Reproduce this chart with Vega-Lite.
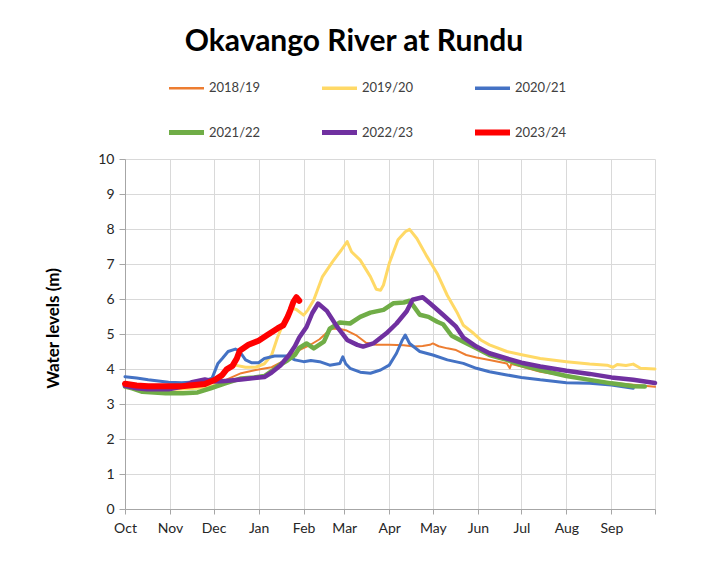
{
  "$schema": "https://vega.github.io/schema/vega-lite/v6.json",
  "width": 530,
  "height": 350,
  "autosize": {"type": "none"},
  "padding": {"left": 125, "top": 159, "right": 72, "bottom": 52},
  "background": "white",
  "config": {"view": {"stroke": null}, "font": "Lato"},
  "title": {"text": "Okavango River at Rundu", "font": "Lato", "fontSize": 30, "fontWeight": "bold", "color": "black", "anchor": "middle", "dx": -36, "offset": 22},
  "datasets": {
    "levels": [
      {"s":"2018/19","d":0,"v":3.50},{"s":"2018/19","d":10,"v":3.46},{"s":"2018/19","d":20,"v":3.45},{"s":"2018/19","d":40,"v":3.45},{"s":"2018/19","d":55,"v":3.48},{"s":"2018/19","d":61,"v":3.52},{"s":"2018/19","d":71,"v":3.72},{"s":"2018/19","d":80,"v":3.88},{"s":"2018/19","d":90,"v":3.97},{"s":"2018/19","d":101,"v":4.05},{"s":"2018/19","d":108,"v":4.2},{"s":"2018/19","d":112,"v":4.35},{"s":"2018/19","d":120,"v":4.54},{"s":"2018/19","d":128,"v":4.7},{"s":"2018/19","d":134,"v":4.85},{"s":"2018/19","d":140,"v":5.08},{"s":"2018/19","d":143,"v":5.16},{"s":"2018/19","d":148,"v":5.14},{"s":"2018/19","d":152,"v":5.11},{"s":"2018/19","d":159,"v":4.97},{"s":"2018/19","d":166,"v":4.75},{"s":"2018/19","d":173,"v":4.69},{"s":"2018/19","d":182,"v":4.69},{"s":"2018/19","d":192,"v":4.68},{"s":"2018/19","d":199,"v":4.64},{"s":"2018/19","d":205,"v":4.66},{"s":"2018/19","d":210,"v":4.69},{"s":"2018/19","d":212,"v":4.73},{"s":"2018/19","d":216,"v":4.65},{"s":"2018/19","d":222,"v":4.59},{"s":"2018/19","d":228,"v":4.54},{"s":"2018/19","d":235,"v":4.40},{"s":"2018/19","d":242,"v":4.33},{"s":"2018/19","d":251,"v":4.26},{"s":"2018/19","d":263,"v":4.16},{"s":"2018/19","d":265,"v":4.02},{"s":"2018/19","d":266,"v":4.14},{"s":"2018/19","d":273,"v":4.07},{"s":"2018/19","d":286,"v":3.92},{"s":"2018/19","d":304,"v":3.80},{"s":"2018/19","d":320,"v":3.70},{"s":"2018/19","d":335,"v":3.61},{"s":"2018/19","d":350,"v":3.55},{"s":"2018/19","d":365,"v":3.49},

      {"s":"2019/20","d":0,"v":3.48},{"s":"2019/20","d":10,"v":3.44},{"s":"2019/20","d":20,"v":3.42},{"s":"2019/20","d":35,"v":3.42},{"s":"2019/20","d":50,"v":3.45},{"s":"2019/20","d":61,"v":3.52},{"s":"2019/20","d":67,"v":3.78},{"s":"2019/20","d":71,"v":4.02},{"s":"2019/20","d":76,"v":4.11},{"s":"2019/20","d":83,"v":4.05},{"s":"2019/20","d":90,"v":4.05},{"s":"2019/20","d":96,"v":4.15},{"s":"2019/20","d":101,"v":4.40},{"s":"2019/20","d":105,"v":4.90},{"s":"2019/20","d":110,"v":5.40},{"s":"2019/20","d":114,"v":5.75},{"s":"2019/20","d":118,"v":5.70},{"s":"2019/20","d":123,"v":5.54},{"s":"2019/20","d":126,"v":5.69},{"s":"2019/20","d":130,"v":5.97},{"s":"2019/20","d":136,"v":6.64},{"s":"2019/20","d":143,"v":7.07},{"s":"2019/20","d":149,"v":7.40},{"s":"2019/20","d":153,"v":7.64},{"s":"2019/20","d":156,"v":7.35},{"s":"2019/20","d":162,"v":7.11},{"s":"2019/20","d":169,"v":6.64},{"s":"2019/20","d":173,"v":6.28},{"s":"2019/20","d":176,"v":6.25},{"s":"2019/20","d":178,"v":6.40},{"s":"2019/20","d":182,"v":7.02},{"s":"2019/20","d":188,"v":7.69},{"s":"2019/20","d":193,"v":7.92},{"s":"2019/20","d":196,"v":7.99},{"s":"2019/20","d":201,"v":7.73},{"s":"2019/20","d":208,"v":7.21},{"s":"2019/20","d":215,"v":6.73},{"s":"2019/20","d":222,"v":6.10},{"s":"2019/20","d":229,"v":5.59},{"s":"2019/20","d":233,"v":5.25},{"s":"2019/20","d":240,"v":5.02},{"s":"2019/20","d":245,"v":4.83},{"s":"2019/20","d":251,"v":4.69},{"s":"2019/20","d":263,"v":4.50},{"s":"2019/20","d":274,"v":4.40},{"s":"2019/20","d":286,"v":4.30},{"s":"2019/20","d":304,"v":4.21},{"s":"2019/20","d":320,"v":4.14},{"s":"2019/20","d":332,"v":4.11},{"s":"2019/20","d":336,"v":4.05},{"s":"2019/20","d":339,"v":4.13},{"s":"2019/20","d":345,"v":4.10},{"s":"2019/20","d":350,"v":4.14},{"s":"2019/20","d":355,"v":4.02},{"s":"2019/20","d":365,"v":4.00},

      {"s":"2020/21","d":0,"v":3.78},{"s":"2020/21","d":8,"v":3.74},{"s":"2020/21","d":16,"v":3.69},{"s":"2020/21","d":30,"v":3.62},{"s":"2020/21","d":39,"v":3.61},{"s":"2020/21","d":53,"v":3.64},{"s":"2020/21","d":60,"v":3.74},{"s":"2020/21","d":64,"v":4.16},{"s":"2020/21","d":67,"v":4.30},{"s":"2020/21","d":71,"v":4.50},{"s":"2020/21","d":76,"v":4.57},{"s":"2020/21","d":79,"v":4.50},{"s":"2020/21","d":83,"v":4.26},{"s":"2020/21","d":87,"v":4.18},{"s":"2020/21","d":92,"v":4.18},{"s":"2020/21","d":96,"v":4.30},{"s":"2020/21","d":103,"v":4.37},{"s":"2020/21","d":112,"v":4.37},{"s":"2020/21","d":117,"v":4.26},{"s":"2020/21","d":123,"v":4.21},{"s":"2020/21","d":128,"v":4.24},{"s":"2020/21","d":134,"v":4.21},{"s":"2020/21","d":141,"v":4.11},{"s":"2020/21","d":148,"v":4.16},{"s":"2020/21","d":150,"v":4.35},{"s":"2020/21","d":152,"v":4.15},{"s":"2020/21","d":155,"v":4.02},{"s":"2020/21","d":162,"v":3.91},{"s":"2020/21","d":169,"v":3.88},{"s":"2020/21","d":176,"v":3.97},{"s":"2020/21","d":182,"v":4.11},{"s":"2020/21","d":187,"v":4.45},{"s":"2020/21","d":191,"v":4.83},{"s":"2020/21","d":193,"v":4.97},{"s":"2020/21","d":196,"v":4.73},{"s":"2020/21","d":203,"v":4.50},{"s":"2020/21","d":212,"v":4.40},{"s":"2020/21","d":222,"v":4.26},{"s":"2020/21","d":233,"v":4.16},{"s":"2020/21","d":242,"v":4.02},{"s":"2020/21","d":251,"v":3.92},{"s":"2020/21","d":263,"v":3.83},{"s":"2020/21","d":273,"v":3.76},{"s":"2020/21","d":286,"v":3.69},{"s":"2020/21","d":304,"v":3.61},{"s":"2020/21","d":320,"v":3.59},{"s":"2020/21","d":335,"v":3.54},{"s":"2020/21","d":350,"v":3.45},

      {"s":"2021/22","d":0,"v":3.50},{"s":"2021/22","d":5,"v":3.45},{"s":"2021/22","d":12,"v":3.35},{"s":"2021/22","d":28,"v":3.31},{"s":"2021/22","d":40,"v":3.31},{"s":"2021/22","d":50,"v":3.33},{"s":"2021/22","d":59,"v":3.45},{"s":"2021/22","d":69,"v":3.59},{"s":"2021/22","d":80,"v":3.73},{"s":"2021/22","d":89,"v":3.76},{"s":"2021/22","d":96,"v":3.80},{"s":"2021/22","d":103,"v":4.00},{"s":"2021/22","d":106,"v":4.10},{"s":"2021/22","d":112,"v":4.25},{"s":"2021/22","d":117,"v":4.40},{"s":"2021/22","d":120,"v":4.60},{"s":"2021/22","d":125,"v":4.73},{"s":"2021/22","d":130,"v":4.59},{"s":"2021/22","d":137,"v":4.78},{"s":"2021/22","d":141,"v":5.15},{"s":"2021/22","d":148,"v":5.33},{"s":"2021/22","d":155,"v":5.30},{"s":"2021/22","d":162,"v":5.49},{"s":"2021/22","d":169,"v":5.61},{"s":"2021/22","d":178,"v":5.69},{"s":"2021/22","d":185,"v":5.88},{"s":"2021/22","d":192,"v":5.90},{"s":"2021/22","d":196,"v":5.95},{"s":"2021/22","d":199,"v":5.78},{"s":"2021/22","d":203,"v":5.55},{"s":"2021/22","d":209,"v":5.49},{"s":"2021/22","d":215,"v":5.35},{"s":"2021/22","d":219,"v":5.28},{"s":"2021/22","d":225,"v":4.95},{"s":"2021/22","d":233,"v":4.78},{"s":"2021/22","d":242,"v":4.59},{"s":"2021/22","d":251,"v":4.40},{"s":"2021/22","d":263,"v":4.26},{"s":"2021/22","d":273,"v":4.11},{"s":"2021/22","d":286,"v":3.97},{"s":"2021/22","d":304,"v":3.80},{"s":"2021/22","d":320,"v":3.69},{"s":"2021/22","d":335,"v":3.59},{"s":"2021/22","d":350,"v":3.51},{"s":"2021/22","d":358,"v":3.50},

      {"s":"2022/23","d":0,"v":3.52},{"s":"2022/23","d":8,"v":3.45},{"s":"2022/23","d":15,"v":3.42},{"s":"2022/23","d":30,"v":3.42},{"s":"2022/23","d":40,"v":3.50},{"s":"2022/23","d":46,"v":3.62},{"s":"2022/23","d":55,"v":3.70},{"s":"2022/23","d":62,"v":3.64},{"s":"2022/23","d":69,"v":3.66},{"s":"2022/23","d":80,"v":3.70},{"s":"2022/23","d":89,"v":3.74},{"s":"2022/23","d":96,"v":3.77},{"s":"2022/23","d":101,"v":3.90},{"s":"2022/23","d":107,"v":4.10},{"s":"2022/23","d":113,"v":4.40},{"s":"2022/23","d":117,"v":4.65},{"s":"2022/23","d":120,"v":4.90},{"s":"2022/23","d":125,"v":5.20},{"s":"2022/23","d":129,"v":5.60},{"s":"2022/23","d":133,"v":5.87},{"s":"2022/23","d":139,"v":5.66},{"s":"2022/23","d":146,"v":5.21},{"s":"2022/23","d":153,"v":4.83},{"s":"2022/23","d":160,"v":4.69},{"s":"2022/23","d":164,"v":4.64},{"s":"2022/23","d":171,"v":4.73},{"s":"2022/23","d":180,"v":5.02},{"s":"2022/23","d":187,"v":5.30},{"s":"2022/23","d":194,"v":5.65},{"s":"2022/23","d":198,"v":5.98},{"s":"2022/23","d":205,"v":6.05},{"s":"2022/23","d":210,"v":5.88},{"s":"2022/23","d":219,"v":5.55},{"s":"2022/23","d":228,"v":5.21},{"s":"2022/23","d":233,"v":4.90},{"s":"2022/23","d":242,"v":4.64},{"s":"2022/23","d":251,"v":4.45},{"s":"2022/23","d":263,"v":4.30},{"s":"2022/23","d":273,"v":4.18},{"s":"2022/23","d":286,"v":4.07},{"s":"2022/23","d":304,"v":3.95},{"s":"2022/23","d":320,"v":3.86},{"s":"2022/23","d":335,"v":3.76},{"s":"2022/23","d":350,"v":3.69},{"s":"2022/23","d":365,"v":3.60},

      {"s":"2023/24","d":0,"v":3.58},{"s":"2023/24","d":8,"v":3.53},{"s":"2023/24","d":16,"v":3.51},{"s":"2023/24","d":39,"v":3.51},{"s":"2023/24","d":55,"v":3.57},{"s":"2023/24","d":62,"v":3.69},{"s":"2023/24","d":67,"v":3.83},{"s":"2023/24","d":70,"v":3.99},{"s":"2023/24","d":74,"v":4.09},{"s":"2023/24","d":77,"v":4.30},{"s":"2023/24","d":79,"v":4.52},{"s":"2023/24","d":85,"v":4.69},{"s":"2023/24","d":92,"v":4.81},{"s":"2023/24","d":98,"v":4.97},{"s":"2023/24","d":105,"v":5.16},{"s":"2023/24","d":109,"v":5.25},{"s":"2023/24","d":112,"v":5.49},{"s":"2023/24","d":114,"v":5.69},{"s":"2023/24","d":116,"v":5.92},{"s":"2023/24","d":118,"v":6.05},{"s":"2023/24","d":120,"v":5.95}
    ]
  },
  "data": {"name": "levels"},
  "encoding": {
    "x": {
      "field": "d", "type": "quantitative",
      "scale": {"domain": [0, 365], "nice": false, "zero": false},
      "axis": {
        "title": null,
        "values": [0, 31, 61, 92, 123, 151, 182, 212, 243, 273, 304, 335, 365],
        "labelExpr": "['Oct','Nov','Dec','Jan','Feb','Mar','Apr','May','Jun','Jul','Aug','Sep',''][indexof([0,31,61,92,123,151,182,212,243,273,304,335,365], datum.value)]",
        "grid": true, "gridColor": "#d9d9d9", "gridWidth": 1,
        "domainColor": "#a6a6a6", "tickColor": "#a6a6a6", "tickSize": 5,
        "labelFont": "Lato", "labelFontSize": 14, "labelColor": "#262626", "labelPadding": 7,
        "labelFlush": false, "labelOverlap": false
      }
    },
    "y": {
      "field": "v", "type": "quantitative",
      "scale": {"domain": [0, 10], "nice": false},
      "axis": {
        "title": "Water levels (m)",
        "titleFont": "Lato", "titleFontSize": 17, "titleFontWeight": "bold", "titleColor": "black", "titlePadding": 35, "titleY": 169,
        "values": [0, 1, 2, 3, 4, 5, 6, 7, 8, 9, 10],
        "grid": true, "gridColor": "#d9d9d9", "gridWidth": 1,
        "domainColor": "#a6a6a6", "tickColor": "#a6a6a6", "tickSize": 6,
        "labelFont": "Lato", "labelFontSize": 14, "labelColor": "#262626", "labelPadding": 5
      }
    },
    "color": {
      "field": "s", "type": "nominal",
      "scale": {
        "domain": ["2018/19", "2019/20", "2020/21", "2021/22", "2022/23", "2023/24"],
        "range": ["#ED7D31", "#FFD966", "#4472C4", "#70AD47", "#7030A0", "#FF0000"]
      },
      "legend": {
        "orient": "none", "legendX": 55, "legendY": -80,
        "direction": "horizontal", "columns": 3, "title": null,
        "symbolType": "stroke", "symbolSize": 1225, "symbolStrokeWidth": 4,
        "labelFont": "Lato", "labelFontSize": 13, "labelColor": "#404040", "labelOffset": 16,
        "columnPadding": 49, "rowPadding": 22, "gridAlign": "all",
        "encode": {
          "symbols": {
            "update": {
              "strokeWidth": {"signal": "datum.value == '2018/19' ? 2.5 : (datum.value == '2023/24' ? 6 : ((datum.value == '2021/22' || datum.value == '2022/23') ? 5 : 3.5))"}
            }
          }
        }
      }
    }
  },
  "layer": [
    {"transform": [{"filter": "datum.s == '2018/19'"}], "mark": {"type": "line", "strokeWidth": 2, "strokeJoin": "round", "strokeCap": "round"}},
    {"transform": [{"filter": "datum.s == '2019/20' || datum.s == '2020/21'"}], "mark": {"type": "line", "strokeWidth": 3, "strokeJoin": "round", "strokeCap": "round"}},
    {"transform": [{"filter": "datum.s == '2021/22' || datum.s == '2022/23'"}], "mark": {"type": "line", "strokeWidth": 4.5, "strokeJoin": "round", "strokeCap": "round"}},
    {"transform": [{"filter": "datum.s == '2023/24'"}], "mark": {"type": "line", "strokeWidth": 6, "strokeJoin": "round", "strokeCap": "round"}}
  ]
}
